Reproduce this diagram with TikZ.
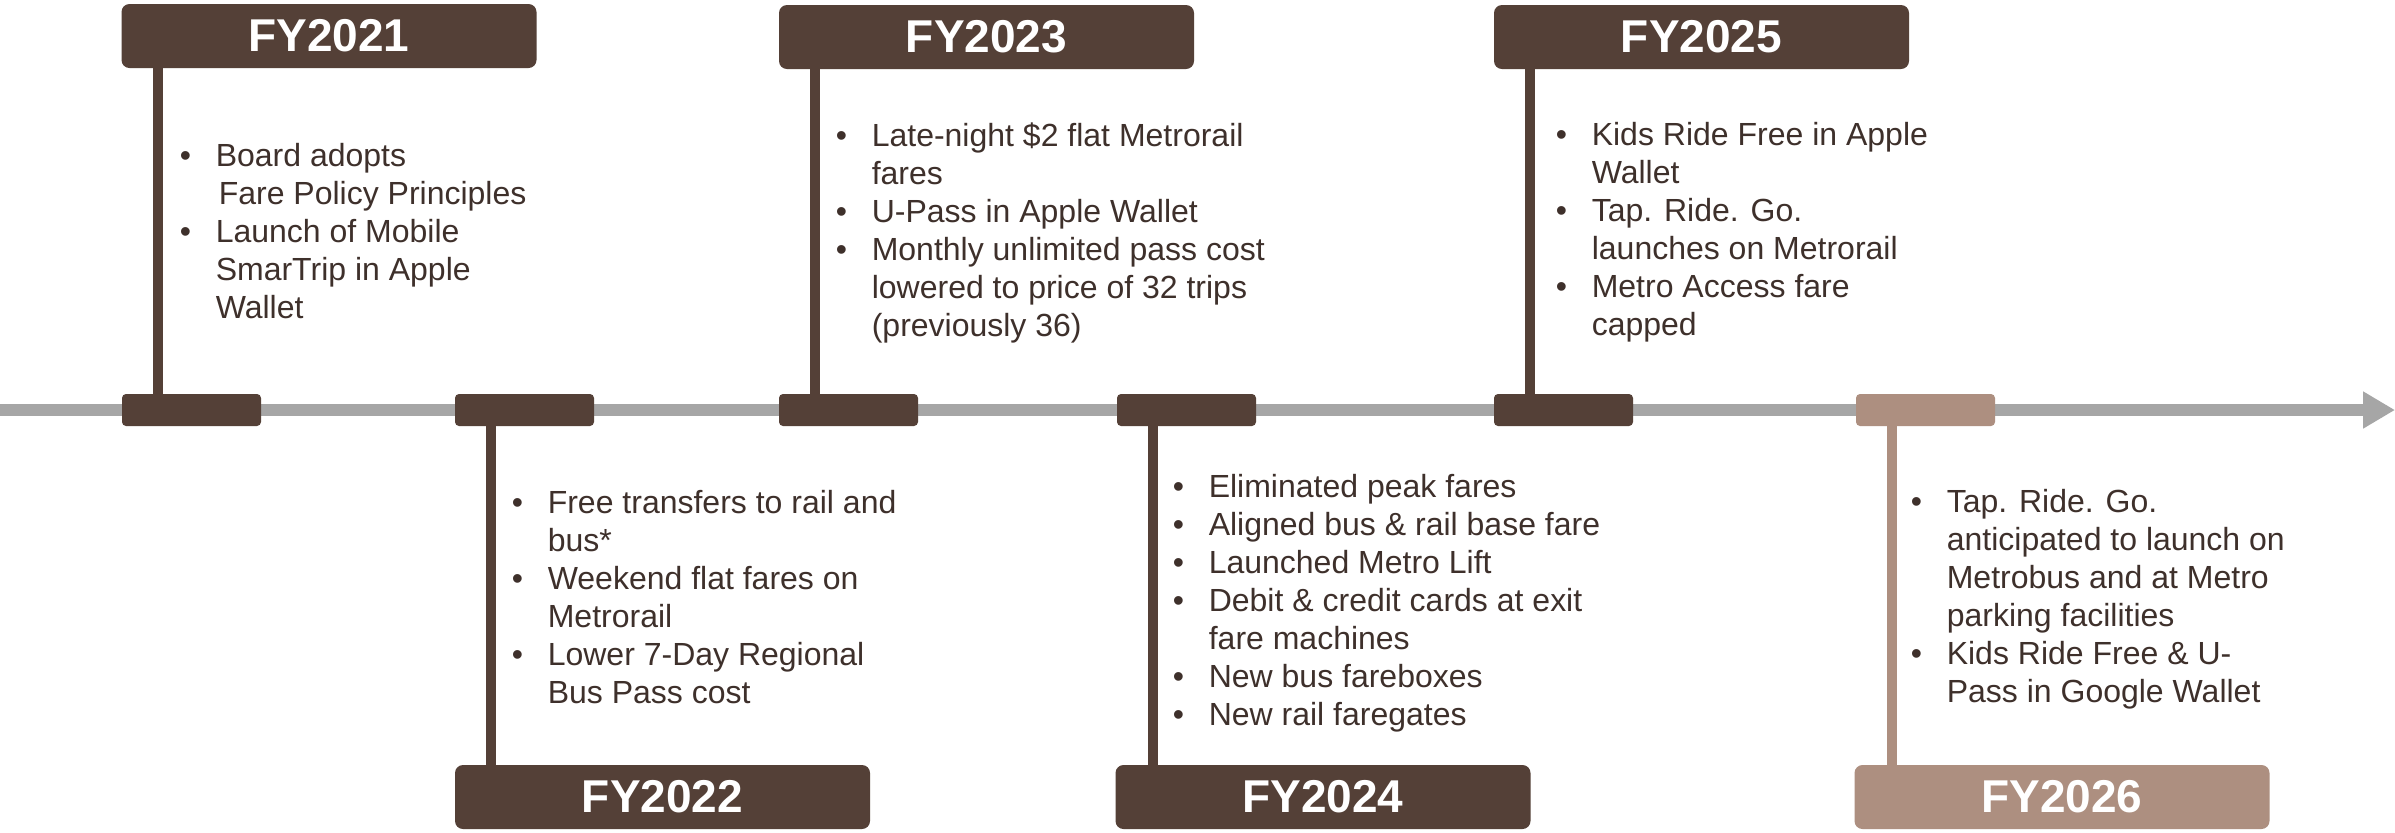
\documentclass[tikz,border=0pt]{standalone}
\usepackage{fontspec}
\setmainfont{Liberation Sans}
\usetikzlibrary{arrows.meta}
\definecolor{dbrown}{RGB}{84,64,55}
\definecolor{lbrown}{RGB}{173,143,128}
\definecolor{axisgray}{RGB}{166,166,166}
\definecolor{txt}{RGB}{62,48,43}
\newcommand\bl{\makebox[18pt][l]{\textbullet}}
\newcommand\cl{\hspace*{18pt}}
\newcommand\itemlist[1]{\begin{tabular}[t]{@{}l@{}}#1\end{tabular}}
\begin{document}
\begin{tikzpicture}[x=0.5pt,y=-0.5pt,
  yearbox/.style={fill=dbrown, rounded corners=4pt, minimum width=207.5pt, minimum height=32pt, inner sep=0pt, text=white, font=\bfseries\fontsize{23}{27}\selectfont},
  tickbox/.style={fill=dbrown, rounded corners=2pt, minimum width=69.5pt, minimum height=16pt, inner sep=0pt},
  stem/.style={draw=dbrown, line width=5pt},
  items/.style={anchor=base west, inner sep=0pt, text=txt, font=\fontsize{16}{19}\selectfont},
  axisline/.style={draw=axisgray, line width=6pt, -{Triangle[length=16pt,width=17.5pt]}},
]
\fill[white] (0,0) rectangle (2395,832);
\useasboundingbox (0,0) rectangle (2395,832);

% axis
\coordinate (ax0) at (0,410);
\coordinate (ax1) at (2395,410);
\draw[axisline] (ax0) -- (ax1);

% year boxes
\node[yearbox] (h21) at (329,36) {FY2021};
\node[yearbox] (h23) at (986.5,37) {FY2023};
\node[yearbox] (h25) at (1701.5,37) {FY2025};
\node[yearbox] (b22) at (662.5,797) {FY2022};
\node[yearbox] (b24) at (1323,797) {FY2024};
\node[yearbox, fill=lbrown] (b26) at (2062,797) {FY2026};

% tick boxes on axis
\node[tickbox] (t21) at (191.5,410) {};
\node[tickbox] (t22) at (524.5,410) {};
\node[tickbox] (t23) at (848.5,410) {};
\node[tickbox] (t24) at (1186.5,410) {};
\node[tickbox] (t25) at (1563.5,410) {};
\node[tickbox, fill=lbrown] (t26) at (1925.5,410) {};

% stems
\draw[stem] ([xshift=18pt]t21.north west) -- ([xshift=18pt]t21.north west |- h21.south);
\draw[stem] ([xshift=18pt]t23.north west) -- ([xshift=18pt]t23.north west |- h23.south);
\draw[stem] ([xshift=18pt]t25.north west) -- ([xshift=18pt]t25.north west |- h25.south);
\draw[stem] ([xshift=18pt]t22.south west) -- ([xshift=18pt]t22.south west |- b22.north);
\draw[stem] ([xshift=18pt]t24.south west) -- ([xshift=18pt]t24.south west |- b24.north);
\draw[stem, draw=lbrown] ([xshift=18pt]t26.south west) -- ([xshift=18pt]t26.south west |- b26.north);

% item lists
\node[items] (n21) at (179.4,166) {\itemlist{\bl Board adopts\\ \cl\hspace*{1.5pt}Fare Policy Principles\\ \bl Launch of Mobile\\ \cl SmarTrip in Apple\\ \cl Wallet}};
\node[items] (n23) at (835.4,146) {\itemlist{\bl Late-night \$2 flat Metrorail\\ \cl fares\\ \bl U-Pass in Apple Wallet\\ \bl Monthly unlimited pass cost\\ \cl lowered to price of 32 trips\\ \cl (previously 36)}};
\node[items] (n25) at (1555.4,145) {\itemlist{\bl Kids Ride Free in Apple\\ \cl Wallet\\ \bl Tap. Ride. Go.\\ \cl launches on Metrorail\\ \bl Metro Access fare\\ \cl capped}};
\node[items] (n22) at (511.4,513) {\itemlist{\bl Free transfers to rail and\\ \cl bus*\\ \bl Weekend flat fares on\\ \cl Metrorail\\ \bl Lower 7-Day Regional\\ \cl Bus Pass cost}};
\node[items] (n24) at (1172.4,497) {\itemlist{\bl Eliminated peak fares\\ \bl Aligned bus \& rail base fare\\ \bl Launched Metro Lift\\ \bl Debit \& credit cards at exit\\ \cl fare machines\\ \bl New bus fareboxes\\ \bl New rail faregates}};
\node[items] (n26) at (1910.4,512) {\itemlist{\bl Tap. Ride. Go.\\ \cl anticipated to launch on\\ \cl Metrobus and at Metro\\ \cl parking facilities\\ \bl Kids Ride Free \& U-\\ \cl Pass in Google Wallet}};
\end{tikzpicture}
\end{document}
